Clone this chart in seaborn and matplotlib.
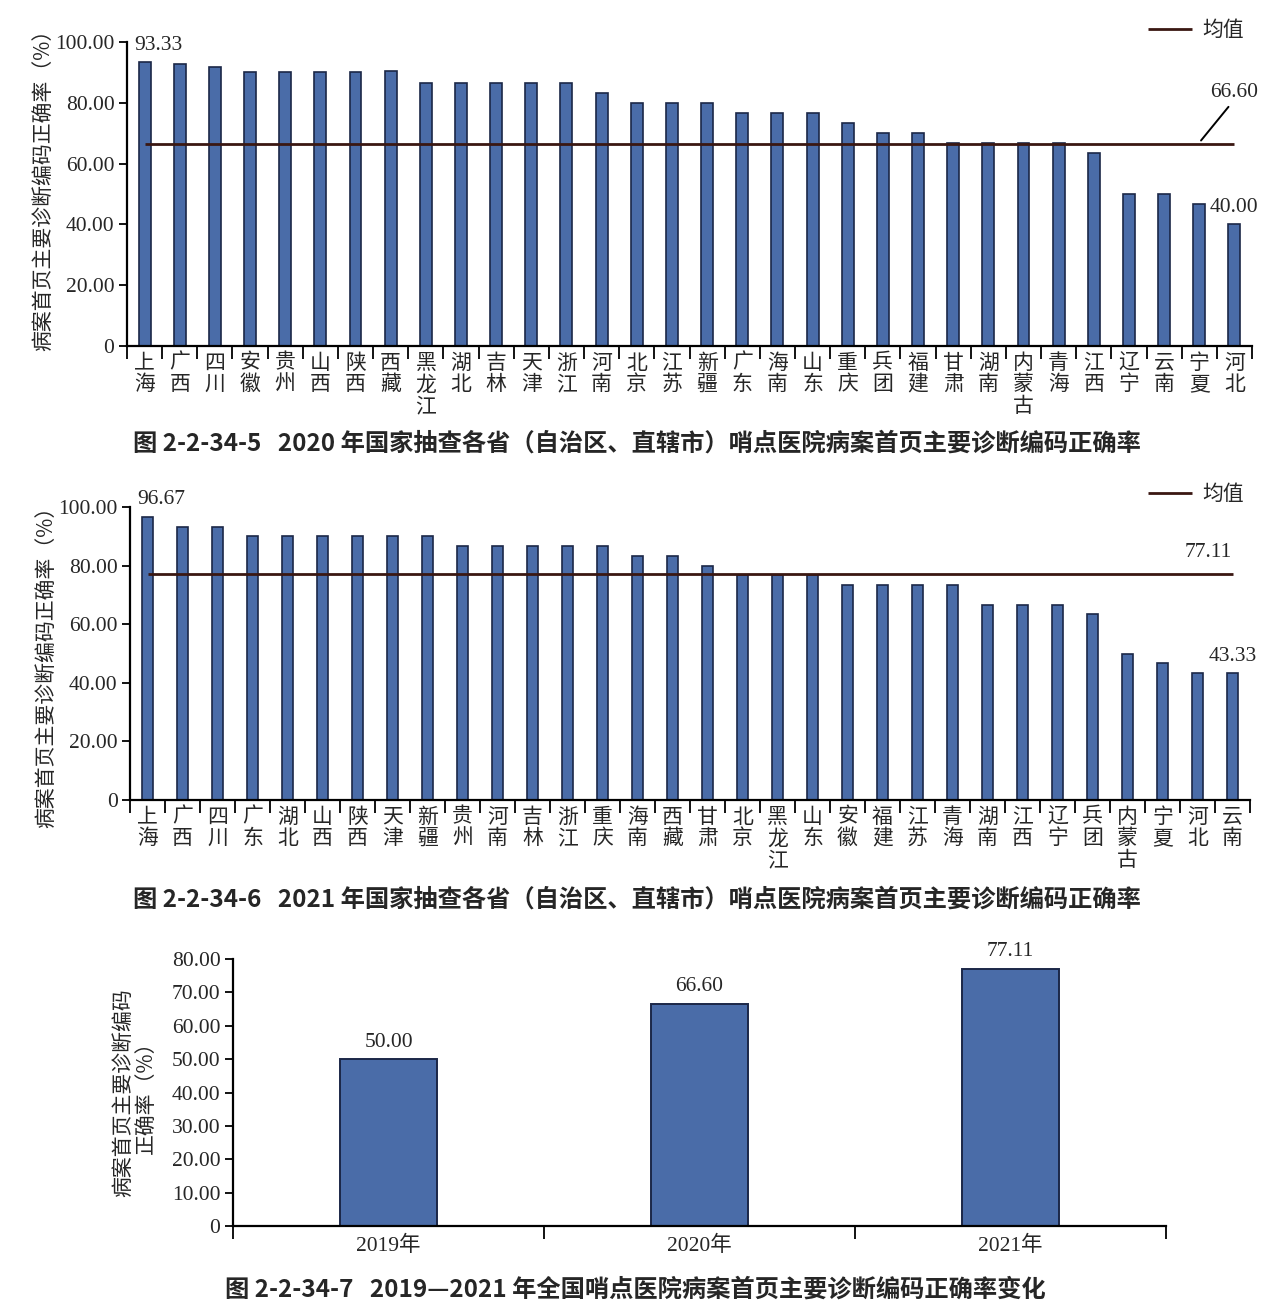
import numpy as np
import matplotlib
matplotlib.use("Agg")
import matplotlib.pyplot as plt
import seaborn as sns

# ---------------- data ----------------
prov_2020 = ["上海", "广西", "四川", "安徽", "贵州", "山西", "陕西", "西藏", "黑龙江", "湖北",
             "吉林", "天津", "浙江", "河南", "北京", "江苏", "新疆", "广东", "海南", "山东",
             "重庆", "兵团", "福建", "甘肃", "湖南", "内蒙古", "青海", "江西", "辽宁", "云南",
             "宁夏", "河北"]
rate_2020 = [93.33, 92.60, 91.70, 90.00, 90.00, 90.00, 90.00, 90.30, 86.67, 86.67,
             86.67, 86.67, 86.67, 83.33, 80.00, 80.00, 80.00, 76.67, 76.67, 76.67,
             73.33, 70.00, 70.00, 66.67, 66.67, 66.67, 66.67, 63.33, 50.00, 50.00,
             46.67, 40.00]
mean_2020 = 66.60

prov_2021 = ["上海", "广西", "四川", "广东", "湖北", "山西", "陕西", "天津", "新疆", "贵州",
             "河南", "吉林", "浙江", "重庆", "海南", "西藏", "甘肃", "北京", "黑龙江", "山东",
             "安徽", "福建", "江苏", "青海", "湖南", "江西", "辽宁", "兵团", "内蒙古", "宁夏",
             "河北", "云南"]
rate_2021 = [96.67, 93.33, 93.33, 90.00, 90.00, 90.00, 90.00, 90.00, 90.00, 86.67,
             86.67, 86.67, 86.67, 86.67, 83.33, 83.33, 80.00, 76.67, 76.67, 76.67,
             73.33, 73.33, 73.33, 73.33, 66.67, 66.67, 66.67, 63.33, 50.00, 46.67,
             43.33, 43.33]
mean_2021 = 77.11

years = ["2019年", "2020年", "2021年"]
rate_years = [50.00, 66.60, 77.11]

yt_big = [0, 20, 40, 60, 80, 100]
yt_big_lbl = ["0", "20.00", "40.00", "60.00", "80.00", "100.00"]
yt_small = [0, 10, 20, 30, 40, 50, 60, 70, 80]
yt_small_lbl = ["0", "10.00", "20.00", "30.00", "40.00", "50.00", "60.00", "70.00", "80.00"]

ylabel_main = "病案首页主要诊断编码正确率（%）"
ylabel_small = "病案首页主要诊断编码\n正确率（%）"
cap1 = "图 2-2-34-5   2020 年国家抽查各省（自治区、直辖市）哨点医院病案首页主要诊断编码正确率"
cap2 = "图 2-2-34-6   2021 年国家抽查各省（自治区、直辖市）哨点医院病案首页主要诊断编码正确率"
cap3 = "图 2-2-34-7   2019—2021 年全国哨点医院病案首页主要诊断编码正确率变化"

# ---------------- style ----------------
sns.set_style("ticks")
plt.rcParams["font.family"] = ["Noto Sans CJK SC", "DejaVu Sans"]
plt.rcParams["axes.unicode_minus"] = False

SERIF = ["Liberation Serif", "Noto Sans CJK SC"]
CJK = ["Noto Sans CJK SC", "DejaVu Sans"]
BAR = "#4a6ca8"
EDGE = "#1b2747"
MEANC = "#3a1712"
NUMFS = 15.5

W, H = 1280, 1314
fig = plt.figure(figsize=(W / 100, H / 100), dpi=100)


def rect(l, t, r, b):
    return [l / W, 1 - b / H, (r - l) / W, (b - t) / H]


def style_axes(ax, n, yt, ytl, ymax):
    ax.set_xlim(-0.5, n - 0.5)
    ax.set_ylim(0, ymax)
    sns.despine(ax=ax)
    for s in ("left", "bottom"):
        ax.spines[s].set_linewidth(1.6)
        ax.spines[s].set_color("black")
    ax.set_yticks(yt)
    ax.set_yticklabels(ytl, family=SERIF, fontsize=NUMFS)
    ax.tick_params(axis="y", length=6, width=1.3, pad=3, color="black")
    ax.set_xticks(np.arange(-0.5, n, 1), minor=True)
    ax.tick_params(axis="x", which="minor", length=9, width=1.3, color="black")
    ax.tick_params(axis="x", which="major", length=0, pad=4)
    ax.set_xlabel("")


def province_chart(ax, cats, vals, mean, top_idx, low_idx, label_y):
    n = len(cats)
    sns.barplot(x=cats, y=vals, ax=ax, color=BAR, saturation=1, width=0.34,
                edgecolor=EDGE, linewidth=1.2)
    style_axes(ax, n, yt_big, yt_big_lbl, 100)
    ax.set_xticks(range(n))
    ax.set_xticklabels(["\n".join(c) for c in cats], family=CJK, fontsize=15,
                       linespacing=0.98, va="top")
    ax.hlines(mean, 0, n - 1, color=MEANC, lw=2, label="均值", zorder=4)
    ax.set_ylabel(ylabel_main, family=CJK, fontsize=15, va="center")
    ax.yaxis.set_label_coords(-0.074, label_y)
    ax.text(top_idx - 0.3, vals[top_idx] + 2.5, f"{vals[top_idx]:.2f}", family=SERIF,
            fontsize=NUMFS, ha="left", va="bottom")
    ax.text(low_idx, vals[low_idx] + 2.5, f"{vals[low_idx]:.2f}", family=SERIF,
            fontsize=NUMFS, ha="center", va="bottom")


def add_legend(ax, y_px):
    ax.legend(loc="center left", bbox_to_anchor=(1140 / W, 1 - y_px / H),
              bbox_transform=fig.transFigure, frameon=False, handlelength=2.1,
              prop={"family": CJK, "size": 15}, borderaxespad=0, handletextpad=0.5)


# ---------- chart 1 (2020) ----------
ax1 = fig.add_axes(rect(127, 42, 1252, 346))
province_chart(ax1, prov_2020, rate_2020, mean_2020, 0, len(prov_2020) - 1, 0.53)
ax1.annotate(f"{mean_2020:.2f}", xy=(len(prov_2020) - 1.95, mean_2020 + 1),
             xytext=(len(prov_2020) - 1.0, mean_2020 + 13.5), family=SERIF, fontsize=NUMFS,
             ha="center", va="bottom",
             arrowprops=dict(arrowstyle="-", color="black", lw=1.4,
                             shrinkA=1, shrinkB=0, relpos=(0.45, 0)))
add_legend(ax1, 30)

# ---------- chart 2 (2021) ----------
ax2 = fig.add_axes(rect(130, 507, 1250, 800))
province_chart(ax2, prov_2021, rate_2021, mean_2021, 0, len(prov_2021) - 1, 0.47)
ax2.text(len(prov_2021) - 1.7, mean_2021 + 4, f"{mean_2021:.2f}", family=SERIF,
         fontsize=NUMFS, ha="center", va="bottom")
add_legend(ax2, 494)

# ---------- chart 3 (yearly) ----------
ax3 = fig.add_axes(rect(233, 959, 1166, 1226))
sns.barplot(x=years, y=rate_years, ax=ax3, color=BAR, saturation=1, width=0.31,
            edgecolor=EDGE, linewidth=1.4)
style_axes(ax3, len(years), yt_small, yt_small_lbl, 80)
ax3.set_xticks(range(len(years)))
ax3.set_xticklabels(years, family=SERIF, fontsize=NUMFS)
ax3.tick_params(axis="x", which="major", pad=7)
ax3.set_ylabel(ylabel_small, family=CJK, fontsize=15, labelpad=10, linespacing=1.1)
for i, v in enumerate(rate_years):
    ax3.text(i, v + 2.2, f"{v:.2f}", family=SERIF, fontsize=NUMFS, ha="center", va="bottom")

# ---------- captions ----------
for txt, x_px, y_px in ((cap1, 133, 444), (cap2, 133, 900), (cap3, 225, 1290)):
    fig.text(x_px / W, 1 - y_px / H, txt, family=CJK, fontsize=17.5, ha="left",
             va="center", weight="bold")

fig.savefig("out.png", dpi=100, facecolor="white")
